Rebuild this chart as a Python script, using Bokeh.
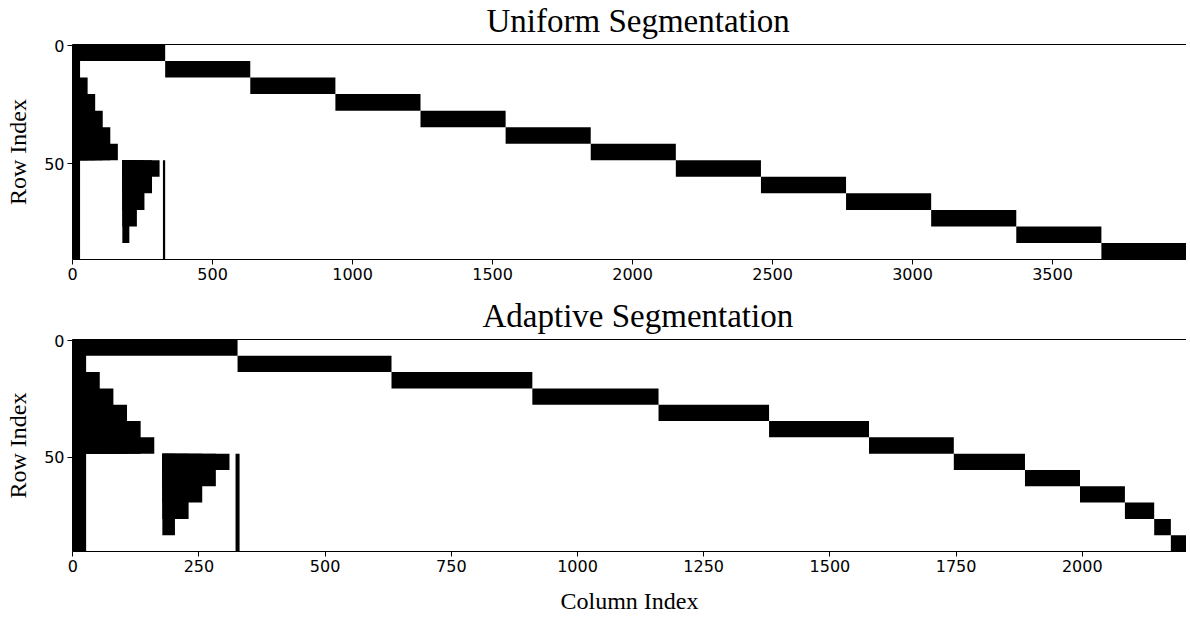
from bokeh.plotting import figure
from bokeh.models import Range1d, FixedTicker, LinearAxis, ColumnDataSource
from bokeh.layouts import column
from bokeh.embed import file_html
from bokeh.resources import INLINE

# ---------------- data ----------------
N_ROWS = 91
ROWS_PER_SEG = 7

# first column of each diagonal segment (last value = total number of columns)
uniform_bounds = [0, 331, 635, 939, 1243, 1547, 1851, 2155, 2459, 2763, 3067, 3371, 3675, 3979]
adaptive_bounds = [0, 327, 632, 911, 1161, 1380, 1578, 1746, 1887, 1996, 2085, 2143, 2176, 2207]

# shared prefix structure
prefix_cols = 27                          # dense band on the left, all rows
stair1_rows = [14, 21, 28, 35, 42]        # first staircase (starts at column 0)
stair1_right = [54, 81, 108, 135, 162]
stair1_end_row = 49
stair2_rows = [49, 56, 63, 70, 77]        # second staircase
stair2_left = 178
stair2_right = [311, 284, 257, 230, 203]
vline_cols = [323, 331]                   # thin dense column band
vline_row_start = 49

row_ticks = [0, 50]
uniform_xticks = [0, 500, 1000, 1500, 2000, 2500, 3000, 3500]
adaptive_xticks = [0, 250, 500, 750, 1000, 1250, 1500, 1750, 2000]

TICK_FONT = "DejaVu Sans"
SERIF = "Liberation Serif"


def build_rects(bounds):
    L, R, T, B = [], [], [], []

    def add(c0, c1, r0, r1):
        L.append(c0 - 0.5)
        R.append(c1 - 0.5)
        T.append(r0 - 0.5)
        B.append(r1 - 0.5)

    add(0, prefix_cols, 0, N_ROWS)
    for k in range(len(bounds) - 1):
        add(bounds[k], bounds[k + 1], k * ROWS_PER_SEG, (k + 1) * ROWS_PER_SEG)
    # staircases drawn as nested, overlapping rectangles (no seams)
    for r, c in zip(stair1_rows, stair1_right):
        add(0, c, r, stair1_end_row)
    for r, c in zip(stair2_rows, stair2_right):
        add(stair2_left, c, stair2_rows[0], r + ROWS_PER_SEG)
    add(vline_cols[0], vline_cols[1], vline_row_start, N_ROWS)
    return ColumnDataSource(dict(left=L, right=R, top=T, bottom=B))


def make_panel(bounds, title, xticks, frame_h, border_bottom, title_offset, xlabel=None):
    p = figure(frame_width=1114, frame_height=frame_h,
               x_range=Range1d(-0.5, bounds[-1] - 0.5),
               y_range=Range1d(N_ROWS - 0.5, -0.5),
               output_backend="svg", toolbar_location=None,
               min_border_left=72, min_border_right=0,
               min_border_top=30, min_border_bottom=border_bottom)
    p.quad(left="left", right="right", top="top", bottom="bottom",
           source=build_rects(bounds), fill_color="black", line_color=None)

    p.title.text = title
    p.title.align = "left"
    p.title.offset = title_offset
    p.title.text_font = SERIF
    p.title.text_font_size = "33px"
    p.title.text_font_style = "normal"
    p.title.text_color = "black"
    p.title.standoff = 1

    p.xaxis.ticker = FixedTicker(ticks=xticks)
    p.yaxis.ticker = FixedTicker(ticks=row_ticks)
    for ax in p.xaxis + p.yaxis:
        ax.major_tick_out = 5
        ax.major_tick_in = 0
        ax.minor_tick_out = 0
        ax.minor_tick_in = 0
        ax.major_label_text_font = TICK_FONT
        ax.major_label_text_font_size = "16px"
        ax.major_label_text_color = "black"
        ax.axis_line_color = "black"
        ax.major_tick_line_color = "black"
        ax.major_label_standoff = 3
        ax.axis_label_text_font = SERIF
        ax.axis_label_text_font_size = "24px"
        ax.axis_label_text_font_style = "normal"
        ax.axis_label_text_color = "black"
    p.yaxis.axis_label = "Row Index"
    p.yaxis.axis_label_standoff = 10
    if xlabel:
        p.xaxis.axis_label = xlabel
        p.xaxis.axis_label_standoff = 13

    # top spine: an axis with one invisible tick and a blank label;
    # its tick length + blank label give the gap between the title and the frame
    top_axis = LinearAxis(ticker=FixedTicker(ticks=[xticks[0]]),
                          major_label_overrides={xticks[0]: " "},
                          major_tick_out=1, major_tick_in=0, major_tick_line_color=None,
                          minor_tick_out=0, minor_tick_in=0, major_label_standoff=0,
                          major_label_text_font_size="1px", axis_line_color="black")
    p.add_layout(top_axis, "above")

    p.grid.visible = False
    p.outline_line_color = None
    p.background_fill_color = "white"
    p.border_fill_color = "white"
    return p


p1 = make_panel(uniform_bounds, "Uniform Segmentation", uniform_xticks, 215, 36, 414)
p2 = make_panel(adaptive_bounds, "Adaptive Segmentation", adaptive_xticks, 212, 58, 410,
                xlabel="Column Index")

layout = column(p1, p2)
open("out.html", "w").write(file_html(layout, INLINE, "Segmentation"))
